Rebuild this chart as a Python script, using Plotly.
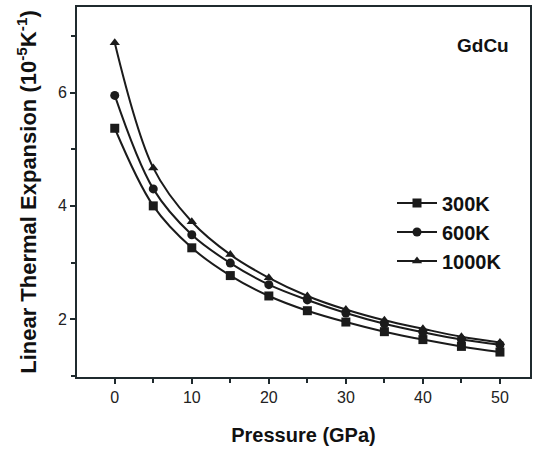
import plotly.graph_objects as go

pressure = [0, 5, 10, 15, 20, 25, 30, 35, 40, 45, 50]
alpha_300K = [5.37, 4.00, 3.26, 2.77, 2.41, 2.15, 1.95, 1.78, 1.64, 1.52, 1.42]
alpha_600K = [5.95, 4.30, 3.49, 2.99, 2.61, 2.34, 2.11, 1.92, 1.77, 1.64, 1.55]
alpha_1000K = [6.88, 4.67, 3.72, 3.14, 2.73, 2.41, 2.17, 1.98, 1.83, 1.69, 1.59]

series = [
    ("300K", alpha_300K, "square"),
    ("600K", alpha_600K, "circle"),
    ("1000K", alpha_1000K, "triangle-up"),
]

ink = "#1b1b1b"
FONT = "Liberation Sans, Arial"
W, H = 542, 450
ML, MR, MT, MB = 77, 12, 7, 73
PW, PH = W - ML - MR, H - MT - MB

fig = go.Figure()
for name, vals, sym in series:
    fig.add_trace(go.Scatter(
        x=pressure, y=vals, name=name, mode="lines+markers",
        line=dict(color=ink, width=2, shape="spline", smoothing=1.0),
        marker=dict(symbol=sym, size=9, color=ink),
    ))

axis_common = dict(
    showline=True, linecolor="#1f2a2e", linewidth=2, mirror=True,
    showgrid=False, zeroline=False, automargin=False,
    ticks="outside", ticklen=5, tickwidth=1.5, tickcolor="#1f2a2e",
    tickfont=dict(family=FONT, size=16, color="#222"),
)

fig.update_xaxes(
    range=[-4.9, 53.9], tickvals=[0, 10, 20, 30, 40, 50],
    minor=dict(tickvals=[5, 15, 25, 35, 45], ticklen=4, tickwidth=1.5, tickcolor="#1f2a2e", ticks="outside"),
    title=dict(text="<b>Pressure (GPa)</b>", font=dict(family=FONT, size=20, color="#111"), standoff=23),
    **axis_common,
)
fig.update_yaxes(
    range=[0.98, 7.51], tickvals=[2, 4, 6],
    minor=dict(tickvals=[1, 3, 5, 7], ticklen=4, tickwidth=1.5, tickcolor="#1f2a2e", ticks="outside"),
    title=dict(text="<b>Linear Thermal Expansion (10<sup>-5</sup>K<sup>-1</sup>)</b>",
               font=dict(family=FONT, size=22, color="#111"), standoff=15),
    **axis_common,
)

fig.add_annotation(
    x=(483 - ML) / PW, y=1 - (45 - MT) / PH, xref="paper", yref="paper",
    xanchor="center", yanchor="middle", showarrow=False,
    text="<b>GdCu</b>", font=dict(family=FONT, size=19, color="#111"),
)

fig.update_layout(
    width=W, height=H,
    margin=dict(l=ML, r=MR, t=MT, b=MB),
    paper_bgcolor="white", plot_bgcolor="white",
    showlegend=True,
    legend=dict(
        x=(392 - ML) / PW, y=1 - (232 - MT) / PH, xanchor="left", yanchor="middle",
        bgcolor="rgba(0,0,0,0)", tracegroupgap=0,
        font=dict(family=FONT, size=20, color="#111", weight="bold"),
        itemwidth=40,
    ),
)

fig.write_html("out.html", config={"displayModeBar": False},
               post_script="document.body.style.margin='0';")
